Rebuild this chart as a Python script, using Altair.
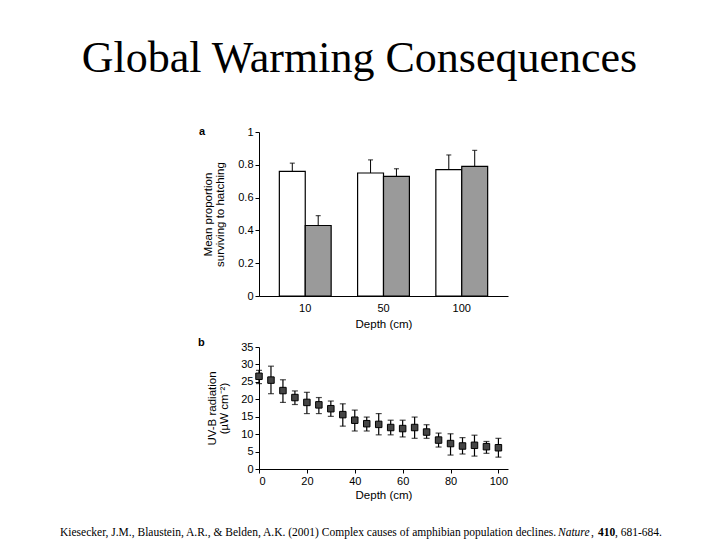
import altair as alt
import pandas as pd

# ---------------- data ----------------
TITLE = "Global Warming Consequences"

depths_a = ["10", "50", "100"]
treatments = ["Open", "Shaded"]          # white bars, grey bars
mean_open = [0.76, 0.75, 0.77]
upper_open = [0.81, 0.83, 0.86]
mean_shaded = [0.43, 0.73, 0.79]
upper_shaded = [0.49, 0.776, 0.888]

depth_b = [0, 5, 10, 15, 20, 25, 30, 35, 40, 45, 50, 55, 60, 65, 70, 75, 80, 85, 90, 95, 100]
uvb_mean = [26.6, 25.5, 22.5, 20.5, 19.1, 18.4, 17.3, 15.6, 14.0, 13.0, 12.8,
            11.9, 11.6, 11.9, 10.6, 8.3, 7.3, 6.6, 6.8, 6.4, 6.1]
uvb_hi = [28.3, 29.5, 25.6, 22.4, 22.0, 20.5, 19.5, 18.7, 16.9, 14.9, 15.9,
          14.0, 14.0, 14.9, 12.7, 10.3, 10.1, 9.0, 9.7, 7.9, 8.8]
uvb_lo = [24.5, 21.6, 19.1, 18.5, 15.9, 15.9, 15.1, 12.3, 10.9, 10.9, 9.8,
          9.8, 9.2, 8.8, 8.8, 6.3, 4.0, 4.3, 3.7, 4.5, 3.4]

y_ticks_a = [0, 0.2, 0.4, 0.6, 0.8, 1]
y_ticks_b = [0, 5, 10, 15, 20, 25, 30, 35]
x_ticks_b = [0, 20, 40, 60, 80, 100]

cite_parts = [
    "Kiesecker, J.M., Blaustein, A.R., & Belden, A.K. (2001) Complex causes of amphibian population declines. ",
    "Nature",
    ", ",
    "410",
    ", 681-684.",
]

# ---------------- layout constants ----------------
W = 249
HA = 164
HB = 122
SANS = "Liberation Sans"
SERIF = "Liberation Serif"

one = pd.DataFrame({"k": [0]})


def frame(top, bottom):
    # white (invisible) rule that fixes the panel's bounding box for the layout
    return alt.Chart(one).mark_rule(color="white", strokeWidth=1).encode(
        x=alt.value(-250), x2=alt.value(-250), y=alt.value(-top), y2=alt.value(bottom)
    )


def letter(t, x, y):
    return alt.Chart(pd.DataFrame({"t": [t]})).mark_text(
        font=SANS, fontSize=11, fontWeight="bold", align="left", baseline="alphabetic", color="black"
    ).encode(text="t:N", x=alt.value(x), y=alt.value(y))


# ---------------- header ----------------
header = alt.Chart(pd.DataFrame({"t": [TITLE]})).mark_text(
    font=SERIF, fontSize=44, align="center", baseline="alphabetic", color="black"
).encode(text="t:N", x=alt.value(100.5), y=alt.value(64)).properties(width=W, height=108)

# ---------------- panel a ----------------
df_a = pd.DataFrame({
    "depth": depths_a * 2,
    "treatment": [treatments[0]] * 3 + [treatments[1]] * 3,
    "mean": mean_open + mean_shaded,
    "upper": upper_open + upper_shaded,
})

axis_xa = alt.Axis(title="Depth (cm)", labelAngle=0, ticks=False, tickSize=0,
                   labelPadding=6, titlePadding=5)
axis_ya = alt.Axis(values=y_ticks_a, format="~g",
                   title=["Mean proportion", "surviving to hatching"],
                   titlePadding=12, titleLineHeight=12, labelPadding=2)
scale_xa = alt.Scale(paddingInner=0.338, paddingOuter=0.26)
scale_ya = alt.Scale(domain=[0, 1], nice=False)


def xa():
    return alt.X("depth:N", sort=depths_a, scale=scale_xa, axis=axis_xa)


def ya(field):
    return alt.Y(field, type="quantitative", scale=scale_ya, axis=axis_ya)


xo_a = alt.XOffset("treatment:N", sort=treatments, scale=alt.Scale(paddingInner=0, paddingOuter=0))

bars = alt.Chart(df_a).mark_bar(stroke="black", strokeWidth=1.2).encode(
    x=xa(), xOffset=xo_a, y=ya("mean"),
    fill=alt.Fill("treatment:N", sort=treatments,
                  scale=alt.Scale(domain=treatments, range=["white", "#9a9a9a"]), legend=None),
)
err_a = alt.Chart(df_a).mark_rule(color="black", strokeWidth=1).encode(
    x=xa(), xOffset=xo_a, y=ya("mean"), y2="upper:Q",
)
cap_a = alt.Chart(df_a).mark_tick(color="black", orient="horizontal", size=5, thickness=1.2).encode(
    x=xa(), xOffset=xo_a, y=ya("upper"),
)

panel_a = alt.layer(
    bars, err_a, cap_a, letter("a", -60, 2.5), frame(15, HA + 37)
).properties(width=W, height=HA)

# ---------------- panel b ----------------
df_b = pd.DataFrame({"depth": depth_b, "uvb": uvb_mean, "hi": uvb_hi, "lo": uvb_lo})

axis_xb = alt.Axis(values=x_ticks_b, title="Depth (cm)", labelPadding=2, titlePadding=3)
axis_yb = alt.Axis(values=y_ticks_b, title=["UV-B radiation", "(\u00b5W cm\u207b\u00b2)"],
                   titlePadding=11, titleLineHeight=12, labelPadding=2)
scale_xb = alt.Scale(domain=[0, 104], nice=False)
scale_yb = alt.Scale(domain=[0, 35], nice=False)


def xb():
    return alt.X("depth:Q", scale=scale_xb, axis=axis_xb)


def yb(field):
    return alt.Y(field, type="quantitative", scale=scale_yb, axis=axis_yb)


err_b = alt.Chart(df_b).mark_rule(color="black", strokeWidth=1.2).encode(
    x=xb(), y=yb("lo"), y2="hi:Q"
)
cap_hi = alt.Chart(df_b).mark_tick(color="black", orient="horizontal", size=6, thickness=1.2).encode(
    x=xb(), y=yb("hi")
)
cap_lo = alt.Chart(df_b).mark_tick(color="black", orient="horizontal", size=6, thickness=1.2).encode(
    x=xb(), y=yb("lo")
)
pts = alt.Chart(df_b).mark_square(size=42, fill="#454545", stroke="black", strokeWidth=1, opacity=1).encode(
    x=xb(), y=yb("uvb")
)

panel_b = alt.layer(
    err_b, cap_hi, cap_lo, pts, letter("b", -61, -0.7), frame(12, HB + 40)
).properties(width=W, height=HB)

# ---------------- citation ----------------
cite_x = [-199, 299, 332, 339, 356]
cite_style = [("normal", "normal"), ("italic", "normal"), ("normal", "normal"),
              ("normal", "bold"), ("normal", "normal")]
cite_layers = []
for txt, px, (st, wt) in zip(cite_parts, cite_x, cite_style):
    cite_layers.append(
        alt.Chart(pd.DataFrame({"t": [txt]})).mark_text(
            font=SERIF, fontSize=11.5, fontStyle=st, fontWeight=wt,
            align="left", baseline="alphabetic", color="black"
        ).encode(text="t:N", x=alt.value(px), y=alt.value(26))
    )
cite = alt.layer(*cite_layers).properties(width=W, height=26)

# ---------------- assemble ----------------
chart = alt.vconcat(header, panel_a, panel_b, cite, spacing=0, padding=0).configure_view(
    strokeWidth=0
).configure_axis(
    grid=False,
    labelFont=SANS, titleFont=SANS,
    labelFontSize=11, titleFontSize=11.5, titleFontWeight="normal",
    labelColor="black", titleColor="black",
    domainColor="black", tickColor="black",
    tickSize=4, domainWidth=1, tickWidth=1,
)

chart.save("out.html", embed_options={"renderer": "svg", "actions": False})
